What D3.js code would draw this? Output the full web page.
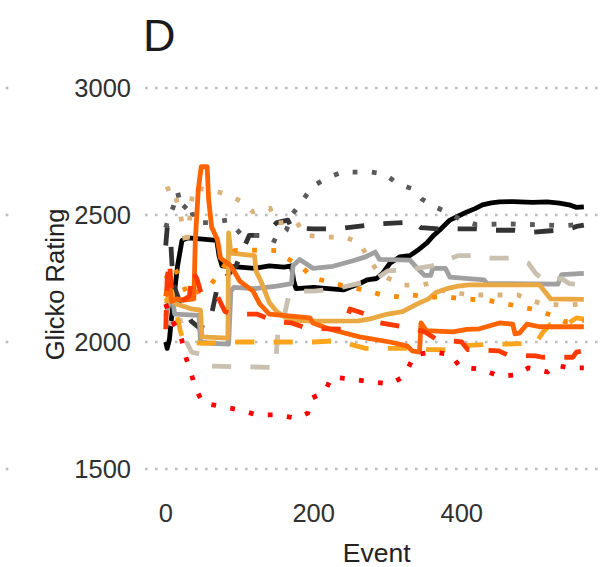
<!DOCTYPE html>
<html>
<head>
<meta charset="utf-8">
<script src="https://cdn.jsdelivr.net/npm/d3@7"></script>
<style>
  html, body { margin: 0; padding: 0; background: #fff; }
  svg { display: block; font-family: "Liberation Sans", Arial, Helvetica, sans-serif; }
</style>
</head>
<body>
<svg id="chart" width="601" height="567"></svg>
<script>
// Glicko rating trajectories by event, one array of [event, rating] per player.
const p01 = [[0,2000],[2,1975],[5,2010],[8,2100],[12,2200],[16,2300],[22,2400],[30,2410],[50,2405],[69,2400],[72,2340],[76,2300],[100,2295],[120,2290],[140,2300],[160,2295],[170,2300],[173,2240],[176,2210],[200,2215],[220,2210],[240,2205],[262,2230],[272,2245],[285,2250],[293,2270],[303,2310],[316,2335],[330,2340],[340,2360],[353,2390],[362,2420],[370,2440],[384,2480],[395,2495],[407,2512],[418,2525],[428,2540],[440,2548],[451,2552],[470,2553],[496,2550],[515,2552],[532,2547],[545,2540],[555,2530],[565,2532]];
const p02 = [[0,2380],[2,2450],[6,2440],[8,2330],[10,2230],[20,2150],[35,2080],[48,2050],[53,2100],[62,2110],[70,2220],[80,2250],[95,2300],[113,2420],[131,2420],[140,2440],[150,2470],[165,2480],[170,2450],[200,2445],[230,2445],[260,2455],[275,2460],[290,2465],[320,2470],[335,2475],[345,2450],[370,2445],[400,2445],[420,2445],[440,2440],[470,2440],[495,2432],[520,2438],[540,2440],[555,2455],[565,2460]];
const p03 = [[0,2450],[5,2500],[10,2530],[16,2590],[22,2520],[32,2550],[39,2470],[60,2470],[84,2480],[103,2420],[131,2420],[150,2395],[163,2440],[170,2500],[184,2551],[197,2610],[218,2646],[239,2669],[278,2669],[296,2661],[312,2626],[334,2602],[346,2563],[362,2535],[384,2505],[400,2480],[420,2462],[460,2465],[500,2462],[540,2458],[565,2465]];
const p04 = [[0,2100],[4,2150],[8,2200],[12,2110],[45,2105],[47,2000],[60,1995],[85,1992],[88,2200],[92,2215],[120,2210],[150,2220],[170,2230],[172,2300],[181,2325],[199,2290],[226,2298],[253,2320],[270,2335],[283,2354],[289,2325],[330,2322],[340,2290],[350,2262],[358,2262],[361,2290],[378,2290],[384,2255],[430,2245],[434,2230],[530,2228],[535,2265],[565,2270]];
const p05 = [[0,2080],[10,2070],[20,2085],[28,2000],[35,1960],[50,1950],[60,1905],[148,1900],[152,2050],[160,2100],[166,2180],[175,2200],[200,2200],[230,2210],[260,2230],[280,2240],[300,2280],[330,2285],[360,2300],[395,2340],[420,2340],[440,2330],[470,2330],[490,2310],[500,2270],[512,2240],[535,2250],[545,2230],[565,2225]];
const p06 = [[0,2600],[10,2610],[20,2500],[28,2374],[33,2500],[37,2606],[60,2600],[84,2579],[104,2551],[118,2512],[141,2527],[150,2469],[177,2472],[188,2421],[215,2413],[242,2413],[262,2390],[273,2335],[285,2283],[300,2252],[319,2224],[346,2224],[357,2232],[370,2205],[411,2185],[476,2185],[492,2165],[510,2150],[540,2145],[565,2150]];
const p07 = [[0,2150],[8,2180],[14,2150],[25,2140],[35,2130],[47,2125],[49,2020],[84,2015],[85,2430],[88,2350],[120,2340],[122,2280],[130,2230],[140,2155],[150,2120],[163,2094],[175,2085],[200,2082],[260,2083],[275,2090],[300,2110],[320,2120],[340,2150],[355,2170],[365,2195],[380,2210],[395,2220],[410,2225],[505,2225],[512,2200],[520,2170],[565,2168]];
const p08 = [[0,2160],[8,2200],[14,2120],[20,2040],[25,2000],[50,1995],[100,2000],[160,2000],[200,2000],[230,2005],[245,1995],[270,1975],[330,1975],[355,1970],[380,1970],[400,1985],[430,1990],[460,1992],[500,1995],[510,2040],[520,2070],[545,2075],[555,2095],[565,2090]];
const p09 = [[0,2250],[10,2300],[20,2250],[30,2180],[45,2200],[55,2205],[69,2256],[93,2360],[131,2362],[150,2360],[163,2331],[184,2295],[199,2252],[222,2236],[245,2217],[269,2205],[292,2185],[316,2177],[332,2185],[357,2177],[381,2177],[400,2170],[434,2165],[455,2153],[481,2138],[501,2126],[521,2106],[539,2080],[565,2085]];
const p10 = [[0,2180],[4,2250],[8,2160],[15,2170],[25,2165],[38,2170],[40,2400],[44,2600],[48,2690],[56,2690],[58,2560],[62,2453],[70,2402],[74,2330],[88,2300],[100,2240],[118,2200],[127,2150],[140,2110],[195,2095],[199,2075],[222,2050],[262,2020],[303,2000],[326,1985],[333,1965],[343,1960],[345,2075],[352,2045],[388,2040],[407,2050],[424,2052],[451,2075],[469,2070],[472,2032],[478,2035],[488,2070],[505,2060],[565,2060]];
const p11 = [[0,2050],[2,2250],[5,2320],[8,2200],[12,2170],[20,2160],[32,2180],[36,2280],[42,2250],[48,2190],[70,2180],[80,2120],[90,2110],[123,2110],[150,2080],[170,2075],[190,2055],[240,2050],[249,2130],[270,2110],[290,2075],[330,2055],[350,2040],[366,2010],[400,2000],[408,1970],[450,1965],[461,1950],[500,1945],[509,1940],[550,1940],[555,1960],[565,1965]];
const p12 = [[0,2150],[6,2100],[12,2067],[20,2030],[26,1950],[33,1890],[40,1820],[50,1760],[77,1745],[100,1732],[124,1713],[151,1713],[177,1700],[192,1720],[198,1780],[215,1803],[224,1862],[251,1854],[277,1843],[303,1835],[318,1858],[328,1900],[336,1949],[362,1961],[386,1949],[398,1900],[427,1893],[450,1866],[474,1870],[490,1898],[516,1882],[526,1909],[545,1898],[565,1898]];

const players = [p01, p02, p03, p04, p05, p06, p07, p08, p09, p10, p11, p12];
const colors = ["#000000", "#333333", "#5a5a5a", "#a0a0a0", "#c9c0b0", "#dab27c",
                "#eaa843", "#fba51e", "#ff8a00", "#ff6400", "#ff3a00", "#ff0000"];
const lineTypes = ["solid", "dashed", "dotted", "solid", "dashed", "dotted",
                   "solid", "dashed", "dotted", "solid", "dashed", "dotted"];

const yTicks = [1500, 2000, 2500, 3000];
const xTicks = [0, 200, 400];

const svg = d3.select("#chart");
const W = 601;

const x = d3.scaleLinear().domain([-28, 593.6]).range([145, 605]);
const y = d3.scaleLinear().domain([1500, 3000]).range([469, 88]);

const lw = 4.8;
const dashes = { solid: null, dashed: `${lw * 4},${lw * 4}`, dotted: `${lw},${lw * 3}` };

// horizontal dotted grid
const grid = svg.append("g");
grid.selectAll("line.main").data(yTicks).join("line")
  .attr("x1", 145).attr("x2", W)
  .attr("y1", d => y(d)).attr("y2", d => y(d))
  .attr("stroke", "#bdbdbd").attr("stroke-width", 2.6)
  .attr("stroke-dasharray", "2.6,7.4");
// stub of the neighbouring panel's grid at the left edge
grid.selectAll("line.stub").data(yTicks).join("line")
  .attr("x1", 5.7).attr("x2", 12)
  .attr("y1", d => y(d)).attr("y2", d => y(d))
  .attr("stroke", "#bdbdbd").attr("stroke-width", 2.6)
  .attr("stroke-dasharray", "2.6,7.4");

// y tick labels
svg.append("g").selectAll("text").data(yTicks).join("text")
  .attr("x", 131).attr("y", d => y(d)).attr("dy", "0.36em")
  .attr("text-anchor", "end").attr("font-size", 25.5).attr("fill", "#303030")
  .text(d => d);

// x tick labels
svg.append("g").selectAll("text").data(xTicks).join("text")
  .attr("x", d => x(d)).attr("y", 522)
  .attr("text-anchor", "middle").attr("font-size", 25.5).attr("fill", "#303030")
  .text(d => d);

// axis titles
svg.append("text").attr("x", x(285)).attr("y", 562)
  .attr("text-anchor", "middle").attr("font-size", 26.5).attr("fill", "#222")
  .text("Event");
svg.append("text")
  .attr("transform", `translate(64, ${y(2250) + 6}) rotate(-90)`)
  .attr("text-anchor", "middle").attr("font-size", 25.5).attr("fill", "#222")
  .text("Glicko Rating");

// panel tag
svg.append("text").attr("x", 143).attr("y", 51)
  .attr("font-size", 45).attr("fill", "#1a1a1a").text("D");

// rating lines
const line = d3.line().x(d => x(d[0])).y(d => y(d[1])).curve(d3.curveLinear);
svg.append("g").selectAll("path").data(players).join("path")
  .attr("d", line)
  .attr("fill", "none")
  .attr("stroke", (d, i) => colors[i])
  .attr("stroke-width", lw)
  .attr("stroke-linejoin", "round")
  .attr("stroke-linecap", "butt")
  .attr("stroke-dasharray", (d, i) => dashes[lineTypes[i]]);
</script>
</body>
</html>
